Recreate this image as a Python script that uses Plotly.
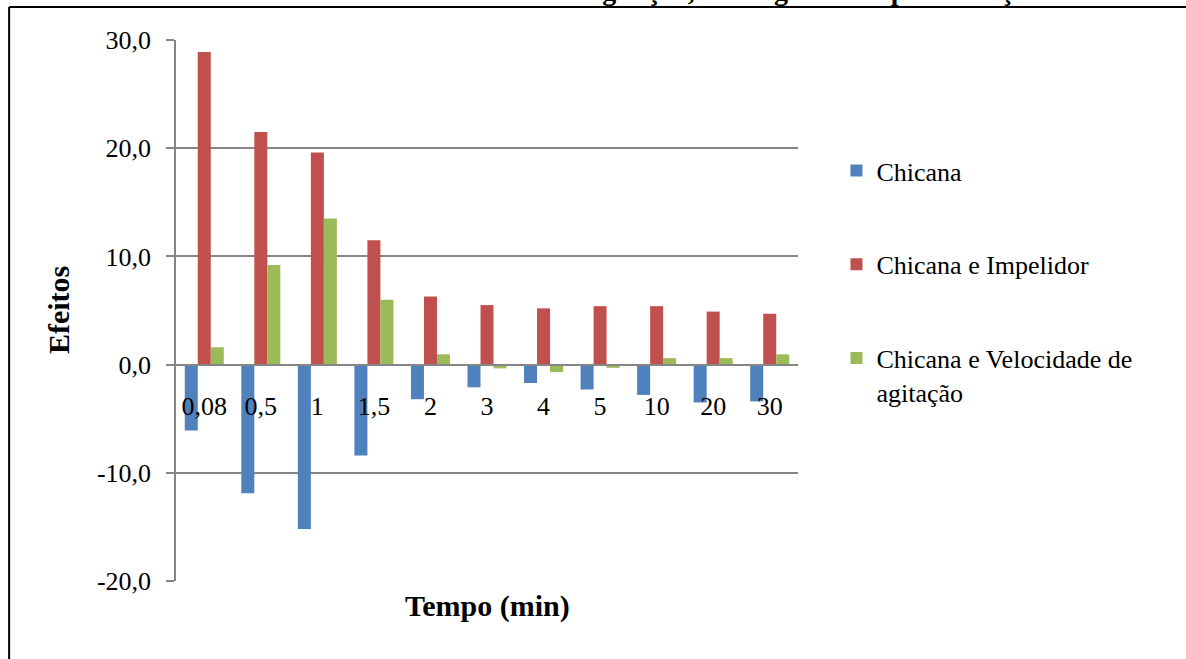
import plotly.graph_objects as go

categories = ["0,08", "0,5", "1", "1,5", "2", "3", "4", "5", "10", "20", "30"]
chicana = [-6.1, -11.9, -15.2, -8.4, -3.2, -2.1, -1.7, -2.3, -2.8, -3.5, -3.4]
chicana_impelidor = [28.9, 21.5, 19.6, 11.5, 6.3, 5.5, 5.2, 5.4, 5.4, 4.9, 4.7]
chicana_velocidade = [1.6, 9.2, 13.5, 6.0, 0.95, -0.35, -0.7, -0.3, 0.6, 0.6, 0.95]
series_names = ["Chicana", "Chicana e Impelidor", "Chicana e Velocidade de<br>agitação"]
colors = ["#4F81BD", "#C0504D", "#9BBB59"]
y_tickvals = [-20, -10, 0, 10, 20, 30]
y_ticktext = ["-20,0", "-10,0", "0,0", "10,0", "20,0", "30,0"]
title_text = "Efeito da Chicana e a Velocidade de agitação, ao longo do tempo de reação"

FONT = "Liberation Serif, Times New Roman, serif"

fig = go.Figure()
for i, (vals, name, col) in enumerate(zip([chicana, chicana_impelidor, chicana_velocidade], series_names, colors)):
    fig.add_trace(go.Bar(x=categories, y=vals, name=name, marker=dict(color=col, line=dict(width=0)),
                         legendgroup=f"g{i}"))

W, H = 1186, 659
L, R, T, B = 176, 1186 - 798.5, 40, 78
pw = W - L - R
ph = H - T - B

def px_x(x):
    return (x - L) / pw

def px_y(y):
    return (H - B - y) / ph

fig.update_layout(
    width=W, height=H,
    margin=dict(l=L, r=R, t=T, b=B, pad=0),
    paper_bgcolor="white", plot_bgcolor="white",
    separators=",.",
    barmode="group", bargap=0.31, bargroupgap=0,
    font=dict(family=FONT, size=26, color="black"),
    showlegend=True,
    legend=dict(x=px_x(837), y=px_y(147), xanchor="left", yanchor="top",
                font=dict(family=FONT, size=26, color="black"),
                tracegroupgap=57, valign="top", bgcolor="rgba(0,0,0,0)"),
    xaxis=dict(type="category", anchor="free", position=0.4, showline=True,
               linecolor="#868686", linewidth=2, ticks="", showgrid=False,
               ticklabelstandoff=18, tickfont=dict(family=FONT, size=26, color="black"),
               range=[-0.5, 10.5], fixedrange=True),
    yaxis=dict(range=[-20, 30], tickmode="array", tickvals=y_tickvals, ticktext=y_ticktext,
               showline=True, linecolor="#868686", linewidth=1.5, ticks="outside", ticklen=8,
               tickcolor="#868686", tickwidth=1.5, showgrid=True, gridcolor="#868686",
               gridwidth=1.5, zeroline=False, ticklabelstandoff=10,
               tickfont=dict(family=FONT, size=26, color="black")),
    annotations=[
        dict(text="<b>Efeitos</b>", xref="paper", yref="paper", x=px_x(58), y=px_y(310),
             textangle=-90, showarrow=False, font=dict(family=FONT, size=30, color="black"),
             xanchor="center", yanchor="middle"),
        dict(text="<b>Tempo (min)</b>", xref="paper", yref="paper", x=px_x(488), y=px_y(606),
             showarrow=False, font=dict(family=FONT, size=30, color="black"),
             xanchor="center", yanchor="middle"),
        dict(text="<b>" + title_text + "</b>", xref="paper", yref="paper", x=px_x(598), y=px_y(8),
             showarrow=False, font=dict(family=FONT, size=28, color="black"),
             xanchor="center", yanchor="bottom"),
    ],
    shapes=[
        dict(type="line", xref="paper", yref="paper", x0=px_x(9), x1=px_x(1190), y0=px_y(7), y1=px_y(7),
             line=dict(color="black", width=2)),
        dict(type="line", xref="paper", yref="paper", x0=px_x(9), x1=px_x(9), y0=px_y(7), y1=px_y(662),
             line=dict(color="black", width=2)),
    ],
)

fig.write_html("out.html", config={"displayModeBar": False})
